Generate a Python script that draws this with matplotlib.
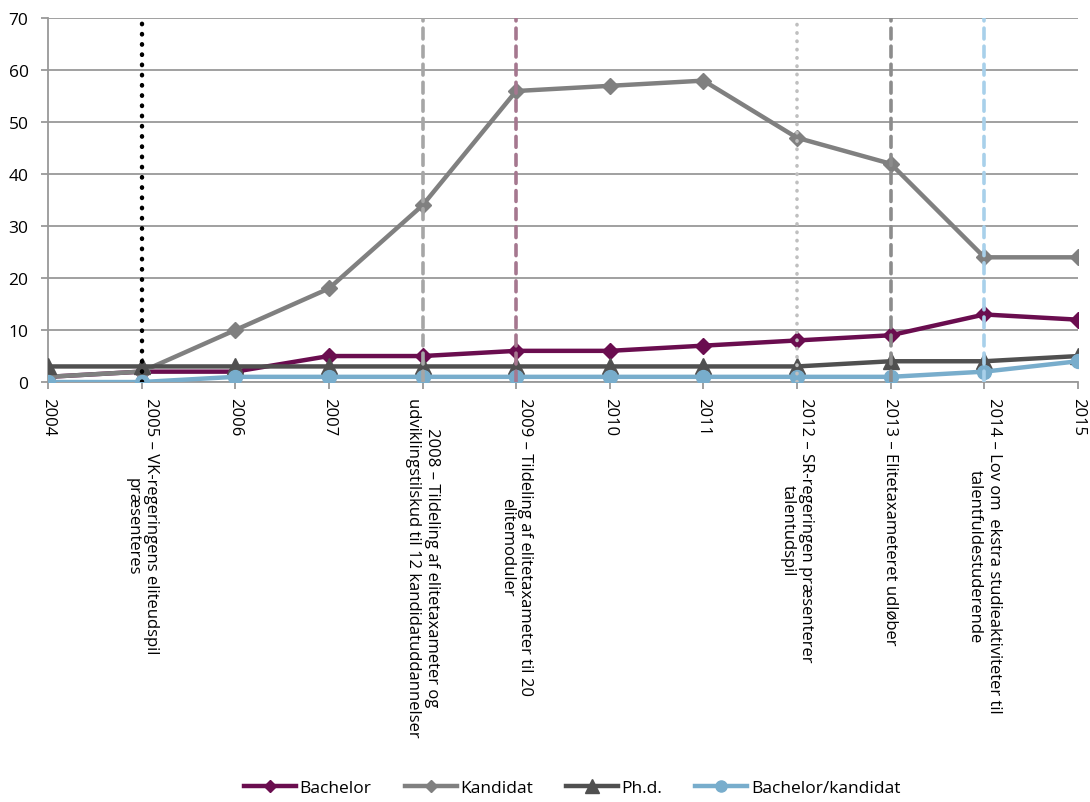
import matplotlib
matplotlib.use("Agg")
import matplotlib.pyplot as plt
import numpy as np

plt.rcParams["font.family"] = ["Open Sans", "DejaVu Sans"]

# Årstal og begivenheder langs x-aksen
years = ["2004", "2005", "2006", "2007", "2008", "2009",
         "2010", "2011", "2012", "2013", "2014", "2015"]
tick_labels = [
    "2004",
    "2005 – VK-regeringens eliteudspil\npræsenteres",
    "2006",
    "2007",
    "2008 – Tildeling af elitetaxameter og\nudviklingstilskud til 12 kandidatuddannelser",
    "2009 – Tildeling af elitetaxameter til 20\nelitemoduler",
    "2010",
    "2011",
    "2012 – SR-regeringen præsenterer\ntalentudspil",
    "2013 – Elitetaxameteret udløber",
    "2014 – Lov om  ekstra studieaktiviteter til\ntalentfuldestuderende",
    "2015",
]

# Antal elitetilbud pr. år
bachelor = [1, 2, 2, 5, 5, 6, 6, 7, 8, 9, 13, 12]
kandidat = [1, 2, 10, 18, 34, 56, 57, 58, 47, 42, 24, 24]
phd = [3, 3, 3, 3, 3, 3, 3, 3, 3, 4, 4, 5]
bach_kand = [0, 0, 1, 1, 1, 1, 1, 1, 1, 1, 2, 4]

# Lodrette markeringer: år, farve, linjestil
event_years = ["2005", "2008", "2009", "2012", "2013", "2014"]
event_colors = ["#000000", "#a6a6a6", "#a5778f", "#bfbfbf", "#8c8c8c", "#a8d0ea"]
event_styles = [(0, (0.1, 2.2)), (0, (3, 2)), (0, (3, 2)),
                (0, (0.1, 2.2)), (0, (3, 2)), (0, (3, 2))]

x = np.arange(len(years))

fig = plt.figure(figsize=(10.9, 8.03), dpi=100)
ax = fig.add_axes([0.044, 0.523, 0.945, 0.453])

series = [
    ("Bachelor", bachelor, "#6a0d4f", "D", 8),
    ("Kandidat", kandidat, "#808080", "D", 8),
    ("Ph.d.", phd, "#505050", "^", 12),
    ("Bachelor/kandidat", bach_kand, "#78adcc", "o", 10),
]
for i, (name, vals, col, mk, ms) in enumerate(series):
    ax.plot(x, vals, color=col, lw=3.2, marker=mk, markersize=ms,
            markeredgecolor=col, label=name, zorder=3 + i)

for yr, col, ls in zip(event_years, event_colors, event_styles):
    xi = years.index(yr)
    lw = 3.2 if col == "#000000" else 2.6
    ax.plot([xi, xi], [0, 70], color=col, lw=lw, linestyle=ls,
            dash_capstyle="round", solid_capstyle="round", zorder=8)

ax.set_xlim(0, len(years) - 1)
ax.set_ylim(0, 70)
ax.set_yticks(np.arange(0, 71, 10))
ax.yaxis.grid(True, color="#999999", lw=1.3)
ax.set_axisbelow(True)

for side in ["top", "right"]:
    ax.spines[side].set_visible(False)
for side in ["left", "bottom"]:
    ax.spines[side].set_color("#999999")
    ax.spines[side].set_linewidth(1.3)

ax.set_xticks(x)
ax.set_xticklabels(tick_labels, rotation=270, ha="center", va="top",
                   multialignment="center", fontsize=12)
ax.tick_params(axis="x", length=5, width=1.3, color="#999999", pad=6)
ax.tick_params(axis="y", length=5, width=1.3, color="#999999", pad=9,
               labelsize=12.5)

fig.legend(loc="lower center", bbox_to_anchor=(0.525, -0.012), ncol=4,
           frameon=False, fontsize=12.5, handlelength=3.0, markerscale=0.8,
           handletextpad=0.2, columnspacing=1.9)

fig.savefig("out.png", dpi=100)
